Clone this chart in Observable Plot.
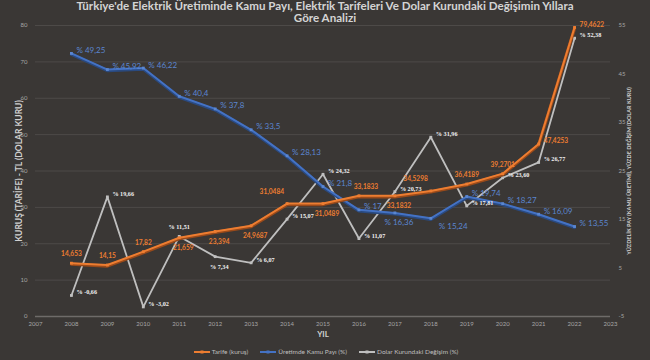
<!DOCTYPE html>
<html>
<head>
<meta charset="utf-8">
<script src="https://cdn.jsdelivr.net/npm/d3@7"></script>
<script src="https://cdn.jsdelivr.net/npm/@observablehq/plot@0.6"></script>
<style>
  html, body { margin: 0; padding: 0; background: #3a3735; width: 650px; height: 360px; overflow: hidden; }
  #title { height: 24px; font-family: Lato, "Liberation Sans", sans-serif; font-weight: bold; font-size: 11.6px; line-height: 12px; color: #d4d4d4; text-align: center; padding-top: 0px; box-sizing: border-box; }
  #chart svg { display: block; overflow: visible; }
  #legend { height: 20px; display: flex; justify-content: center; align-items: center; gap: 12px; font-family: Lato, "Liberation Sans", sans-serif; font-size: 6.5px; color: #bfbfbf; padding-left: 2px; padding-top: 3px; box-sizing: border-box; }
  #legend span { display: flex; align-items: center; gap: 2px; }
</style>
</head>
<body>
<div id="title">Türkiye'de Elektrik Üretiminde Kamu Payı, Elektrik Tarifeleri Ve Dolar Kurundaki Değişimin Yıllara<br>Göre Analizi</div>
<div id="chart"></div>
<div id="legend"></div>
<script>
// ---- data ----
const years = [2008, 2009, 2010, 2011, 2012, 2013, 2014, 2015, 2016, 2017, 2018, 2019, 2020, 2021, 2022];
const tarife = [14.653, 14.15, 17.82, 21.659, 23.394, 24.9687, 31.0484, 31.0489, 33.1833, 33.1832, 34.5298, 36.4189, 39.2701, 47.4253, 79.4622];
const kamuPayi = [49.25, 45.92, 46.22, 40.4, 37.8, 33.5, 28.13, 21.8, 17, 16.36, 15.24, 19.74, 18.27, 16.09, 13.55];
const dolarDegisim = [-0.66, 19.66, -3.02, 11.51, 7.34, 6.07, 15.07, 24.32, 11.07, 20.73, 31.96, 17.81, 23.60, 26.77, 52.38];
const xTicks = [2007, 2008, 2009, 2010, 2011, 2012, 2013, 2014, 2015, 2016, 2017, 2018, 2019, 2020, 2021, 2022, 2023];
const leftTicks = [0, 10, 20, 30, 40, 50, 60, 70, 80];
const rightTicks = [-5, 5, 15, 25, 35, 45, 55];
const seriesNames = ["Tarife (kuruş)", "Üretimde Kamu Payı (%)", "Dolar Kurundaki Değişim (%)"];
const leftTitle = "KURUŞ (TARİFE) - TL (DOLAR KURU)";
const rightTitle = "YÜZDELİK PAY (KAMU ÜRETİMİ), YÜZDE DEĞİŞİM (DOLAR KURU)";
const xTitle = "YIL";

// label placement (layout only)
const tarifePos = ["t","t","t","b","b","b","tl","b","tr","b","tl","t","t","r","r"];
const kamuPos = ["r","r","r","r","r","r","r","r","r","b","br","r","r","r","r"];
const dolarPos = ["r","r","r","t","b","r","r","r","r","r","r","r","r","r","r"];

// ---- styling ----
const C_OR = "#ed7d31", C_BL = "#4472c4", C_GR = "#bfbfbf";
const C_BLT = "#5a86d0";
const L0 = 0, L1 = 80, R0 = -5, R1 = 55;
const toLeft = r => (r - R0) * (L1 - L0) / (R1 - R0) + L0;
const fromLeft = v => (v - L0) * (R1 - R0) / (L1 - L0) + R0;
const comma = v => String(v).replace(".", ",");
const fmt2 = v => v.toFixed(2).replace(".", ",");

const rows = years.map((year, i) => ({
  year, tarife: tarife[i], kamu: toLeft(kamuPayi[i]), dolar: toLeft(dolarDegisim[i]),
  tLab: comma(tarife[i]), kLab: "% " + comma(kamuPayi[i]), dLab: "% " + fmt2(dolarDegisim[i]),
  tPos: tarifePos[i], kPos: kamuPos[i], dPos: dolarPos[i]
}));

const offsets = {
  t: {dx: 0, dy: -9, textAnchor: "middle"},
  tr: {dx: 7, dy: -9, textAnchor: "middle"},
  b: {dx: 4, dy: 10, textAnchor: "middle"},
  r: {dx: 5, dy: -3, textAnchor: "start"},
  br: {dx: 8, dy: 8, textAnchor: "start"},
  tl: {dx: -3, dy: -12, textAnchor: "end"}
};
function labelMarks(yKey, textKey, posKey, style) {
  return Object.entries(offsets).map(([code, o]) =>
    Plot.text(rows.filter(d => d[posKey] === code), {x: "year", y: yKey, text: textKey, ...o, ...style}));
}

const font = "Lato, 'Liberation Sans', sans-serif";
const chart = Plot.plot({
  width: 650,
  height: 316,
  marginLeft: 35,
  marginRight: 40,
  marginTop: 1,
  marginBottom: 24,
  style: {background: "transparent", fontFamily: font, color: "#a6a6a6", overflow: "visible"},
  x: {domain: [2007, 2023]},
  y: {domain: [L0, L1]},
  marks: [
    Plot.gridY(leftTicks.slice(1), {stroke: "#5a5755", strokeOpacity: 1, strokeWidth: 0.6}),
    Plot.ruleY([0], {stroke: "#6e6b69", strokeWidth: 1.5}),
    Plot.axisY({ticks: leftTicks, tickSize: 0, tickPadding: 8, fontSize: 6, fill: "#a6a6a6", label: null}),
    Plot.axisY({anchor: "right", ticks: rightTicks.map(toLeft), tickFormat: v => Math.round(fromLeft(v)), tickSize: 0, tickPadding: 8, fontSize: 6, fill: "#a6a6a6", label: null}),
    Plot.axisX({ticks: xTicks, tickFormat: d => String(d), tickSize: 0, tickPadding: 5, fontSize: 6, fill: "#a6a6a6", label: null}),
    Plot.axisY({ticks: [], tickSize: 0, label: leftTitle, labelAnchor: "center", labelOffset: 20, labelArrow: "none", fontSize: 8.5, fontWeight: "bold", color: "#d0d0d0"}),
    Plot.axisY({anchor: "right", ticks: [], tickSize: 0, label: rightTitle, labelAnchor: "center", labelOffset: 20, labelArrow: "none", fontSize: 5.5, fontWeight: "bold", color: "#d0d0d0"}),
    Plot.axisX({ticks: [], tickSize: 0, label: xTitle, labelAnchor: "center", labelOffset: 20, labelArrow: "none", fontSize: 8, fontWeight: "bold", color: "#d0d0d0"}),
    // dollar change (right axis)
    Plot.line(rows, {x: "year", y: "dolar", stroke: C_GR, strokeWidth: 1.8}),
    Plot.dot(rows, {x: "year", y: "dolar", r: 1.6, fill: C_GR, symbol: "square"}),
    // public share (right axis)
    Plot.line(rows, {x: "year", y: "kamu", stroke: "#2a4a80", strokeWidth: 3.2, dy: 1}),
    Plot.line(rows, {x: "year", y: "kamu", stroke: C_BL, strokeWidth: 2}),
    Plot.dot(rows, {x: "year", y: "kamu", r: 1.6, fill: C_BLT, symbol: "square"}),
    // tariff (left axis)
    Plot.line(rows, {x: "year", y: "tarife", stroke: "#9a4a1a", strokeWidth: 3.2, dy: 1}),
    Plot.line(rows, {x: "year", y: "tarife", stroke: C_OR, strokeWidth: 2}),
    Plot.dot(rows, {x: "year", y: "tarife", r: 1.6, fill: C_OR, symbol: "square"}),
    ...labelMarks("dolar", "dLab", "dPos", {fontSize: 6.2, fill: "#f2f2f2", fontFamily: "'Liberation Serif', serif", fontWeight: "bold"}),
    ...labelMarks("kamu", "kLab", "kPos", {fontSize: 8, fill: C_BLT}),
    ...labelMarks("tarife", "tLab", "tPos", {fontSize: 6.6, fill: C_OR, fontWeight: "bold"})
  ]
});
document.getElementById("chart").appendChild(chart);

// legend
const colors = [C_OR, C_BL, C_GR];
const legend = document.getElementById("legend");
seriesNames.forEach((name, i) => {
  const s = document.createElement("span");
  s.innerHTML = `<svg width="16" height="6"><line x1="0" y1="3" x2="16" y2="3" stroke="${colors[i]}" stroke-width="2"/><rect x="6.5" y="1.5" width="3" height="3" fill="${colors[i]}"/></svg>`;
  s.appendChild(document.createTextNode(name));
  legend.appendChild(s);
});
</script>
</body>
</html>
